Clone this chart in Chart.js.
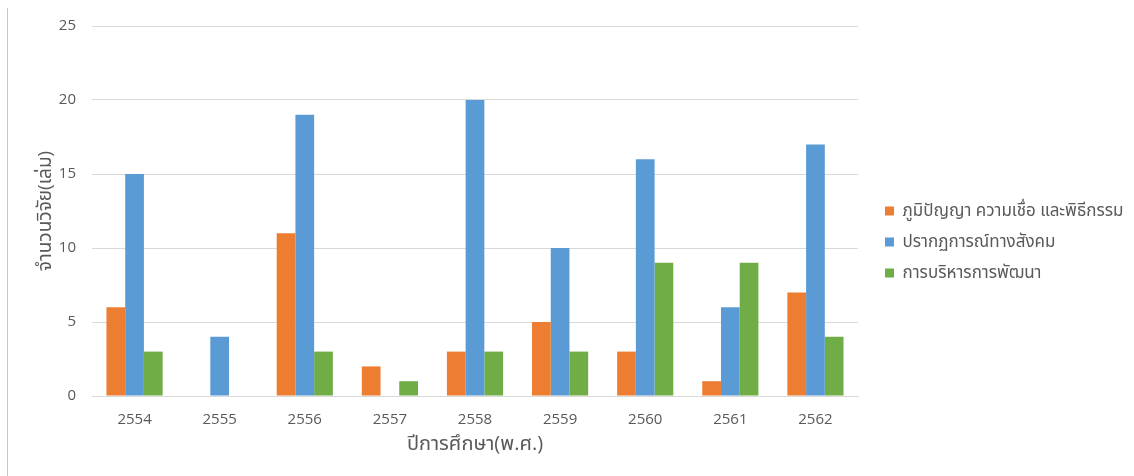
<!DOCTYPE html>
<html>
<head>
<meta charset="utf-8">
<script src="https://cdn.jsdelivr.net/npm/chart.js@4.4.1/dist/chart.umd.min.js"></script>
<style>
  html, body { margin: 0; padding: 0; background: #fff; }
  #wrap { position: relative; width: 1134px; height: 476px; }
  #edge { position: absolute; left: 7px; top: 8px; width: 1px; height: 468px; background: #c6c6c6; }
  canvas { position: absolute; left: 0; top: 0; }
</style>
</head>
<body>
<div id="wrap">
  <canvas id="c" width="1134" height="476"></canvas>
  <div id="edge"></div>
</div>
<script>
const categories = ['2554','2555','2556','2557','2558','2559','2560','2561','2562'];
const seriesNames = ['ภูมิปัญญา ความเชื่อ และพิธีกรรม','ปรากฏการณ์ทางสังคม','การบริหารการพัฒนา'];
const wisdom = [6, 0, 11, 2, 3, 5, 3, 1, 7];
const social = [15, 4, 19, 0, 20, 10, 16, 6, 17];
const development = [3, 0, 3, 1, 3, 3, 9, 9, 4];
const yTicks = [0, 5, 10, 15, 20, 25];
const xTitle = 'ปีการศึกษา(พ.ศ.)';
const yTitle = 'จำนวนวิจัย(เล่ม)';

const FONT = "'Open Sans', 'Noto Sans', 'Noto Sans Thai', sans-serif";
Chart.defaults.font.family = FONT;
Chart.defaults.color = '#595959';

// Legend sizing: fixed width box, items nudged right/up inside it
const LEGEND_WIDTH = 276;
const LEGEND_SHIFT_X = 13;
const LEGEND_SHIFT_Y = -2;
const legendFitPlugin = {
  id: 'legendFit',
  beforeInit(chart) {
    const lg = chart.legend;
    if (!lg) return;
    const origFit = lg.fit;
    lg.fit = function () {
      origFit.call(this);
      this.width = LEGEND_WIDTH;
    };
  },
  afterLayout(chart) {
    const lg = chart.legend;
    if (!lg) return;
    lg.left += LEGEND_SHIFT_X;
    lg.right += LEGEND_SHIFT_X;
    lg.top += LEGEND_SHIFT_Y;
    lg.bottom += LEGEND_SHIFT_Y;
  }
};

new Chart(document.getElementById('c'), {
  type: 'bar',
  data: {
    labels: categories,
    datasets: [
      { label: seriesNames[0], data: wisdom, backgroundColor: '#ED7D31' },
      { label: seriesNames[1], data: social, backgroundColor: '#5B9BD5' },
      { label: seriesNames[2], data: development, backgroundColor: '#70AD47' }
    ]
  },
  plugins: [legendFitPlugin],
  options: {
    responsive: false,
    animation: false,
    devicePixelRatio: 1,
    datasets: { bar: { categoryPercentage: 0.66, barPercentage: 1.0 } },
    layout: { padding: { left: 34, top: 26, right: 0, bottom: 14 } },
    plugins: {
      tooltip: { enabled: false },
      legend: {
        position: 'right',
        align: 'center',
        labels: {
          boxWidth: 9, boxHeight: 9, padding: 14,
          font: { size: 17, family: FONT }, color: '#595959'
        }
      }
    },
    scales: {
      x: {
        grid: { display: false },
        border: { color: '#d9d9d9' },
        ticks: { font: { size: 15 }, padding: 7, color: '#595959' },
        title: { display: true, text: xTitle, font: { size: 20 }, color: '#595959', padding: { top: 0, bottom: 6 } },
        afterFit: (s) => { s.height = 66; }
      },
      y: {
        min: 0, max: 25,
        afterBuildTicks: (s) => { s.ticks = yTicks.map(v => ({ value: v })); },
        grid: { color: '#d9d9d9', drawTicks: false },
        border: { display: false },
        ticks: { font: { size: 15 }, padding: 16, color: '#595959' },
        title: { display: true, text: yTitle, font: { size: 19 }, color: '#595959', padding: { top: 0, bottom: 4 } },
        afterFit: (s) => { s.width = 58; }
      }
    }
  }
});
</script>
</body>
</html>
